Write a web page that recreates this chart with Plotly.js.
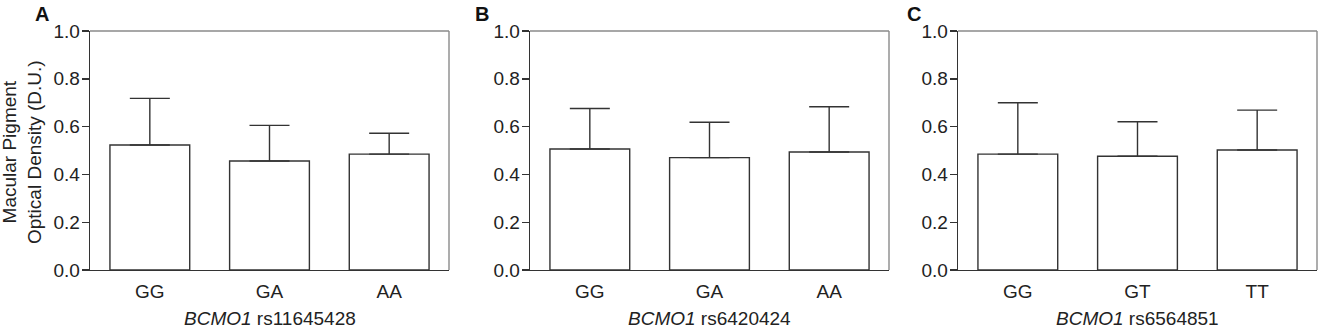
<!DOCTYPE html>
<html>
<head>
<meta charset="utf-8">
<script src="https://cdn.plot.ly/plotly-3.0.1.min.js"></script>
<style>html,body{margin:0;padding:0;background:#fff;}#chart{width:1323px;height:330px;}</style>
</head>
<body>
<div id="chart"></div>
<script>
// Data
const catsA = ["GG", "GA", "AA"];
const meanA = [0.523, 0.456, 0.485];
const sdA   = [0.195, 0.149, 0.087];

const catsB = ["GG", "GA", "AA"];
const meanB = [0.506, 0.470, 0.494];
const sdB   = [0.170, 0.148, 0.189];

const catsC = ["GG", "GT", "TT"];
const meanC = [0.485, 0.476, 0.502];
const sdC   = [0.215, 0.144, 0.167];

const panelLabels = ["A", "B", "C"];
const snpLabels = ["rs11645428", "rs6420424", "rs6564851"];
const yTickVals = [0, 0.2, 0.4, 0.6, 0.8, 1.0];
const yTickText = ["0.0", "0.2", "0.4", "0.6", "0.8", "1.0"];

const W = 1323, H = 330;
const domainsPx = [[90, 449], [530, 889], [958, 1317]];
const yTopPx = 31, yBotPx = 270;
const dark = "#333333";
const gray = "#8a8a8a";
const font = "'Liberation Sans', Arial, sans-serif";

const sets = [[catsA, meanA, sdA], [catsB, meanB, sdB], [catsC, meanC, sdC]];
const traces = [];
const layout = {
  width: W, height: H,
  margin: {l: 0, r: 0, t: 0, b: 0},
  paper_bgcolor: "#fff", plot_bgcolor: "#fff",
  showlegend: false,
  font: {family: font, color: "#222", size: 19},
  annotations: [], shapes: []
};
const yDom = [1 - yBotPx / H, 1 - yTopPx / H];

sets.forEach((s, i) => {
  const n = i === 0 ? "" : String(i + 1);
  traces.push({
    type: "bar", x: s[0], y: s[1],
    xaxis: "x" + n, yaxis: "y" + n,
    width: 2 / 3,
    marker: {color: "#ffffff", line: {color: dark, width: 1.4}},
    error_y: {type: "data", array: s[2], symmetric: false, arrayminus: s[2].map(() => 0),
              color: dark, thickness: 1.4, width: 20},
    hoverinfo: "skip"
  });
  const xd = [domainsPx[i][0] / W, domainsPx[i][1] / W];
  layout["xaxis" + n] = {
    domain: xd, anchor: "y" + n, range: [-0.5, 2.5], type: "category",
    showline: true, linecolor: dark, linewidth: 1.4, ticks: "",
    showgrid: false, zeroline: false, fixedrange: true,
    ticklabelstandoff: 4,
    tickfont: {family: font, size: 19, color: "#222"}
  };
  layout["yaxis" + n] = {
    domain: yDom, anchor: "x" + n, range: [0, 1],
    tickvals: yTickVals, ticktext: yTickText,
    showline: true, linecolor: dark, linewidth: 1.4,
    ticks: "outside", ticklen: 7, tickwidth: 1.4, tickcolor: dark,
    showgrid: false, zeroline: false, fixedrange: true,
    ticklabelstandoff: -2,
    tickfont: {family: font, size: 19, color: "#222"}
  };
  // top and right frame lines (gray)
  layout.shapes.push({type: "line", xref: "paper", yref: "paper",
    x0: xd[0], x1: xd[1], y0: yDom[1], y1: yDom[1], line: {color: gray, width: 1.4}, layer: "below"});
  layout.shapes.push({type: "line", xref: "paper", yref: "paper",
    x0: xd[1], x1: xd[1], y0: yDom[0], y1: yDom[1], line: {color: gray, width: 1.4}, layer: "below"});
  // panel label
  layout.annotations.push({
    text: "<b>" + panelLabels[i] + "</b>", xref: "paper", yref: "paper",
    x: [33, 473, 905][i] / W, y: 1 - 14 / H, xanchor: "left", yanchor: "middle",
    showarrow: false, font: {family: font, size: 20, color: "#111"}
  });
  // x axis title
  layout.annotations.push({
    text: "<i>BCMO1</i> " + snpLabels[i], xref: "paper", yref: "paper",
    x: (xd[0] + xd[1]) / 2, y: 1 - 318 / H, xanchor: "center", yanchor: "middle",
    showarrow: false, font: {family: font, size: 19, color: "#222"}
  });
});

// y axis title
layout.annotations.push({
  text: "Macular Pigment<br>Optical Density (D.U.)", xref: "paper", yref: "paper",
  x: 22 / W, y: 1 - 152 / H, xanchor: "center", yanchor: "middle", textangle: -90,
  showarrow: false, font: {family: font, size: 19, color: "#222"}
});

Plotly.newPlot("chart", traces, layout, {displayModeBar: false, staticPlot: true});
</script>
</body>
</html>
